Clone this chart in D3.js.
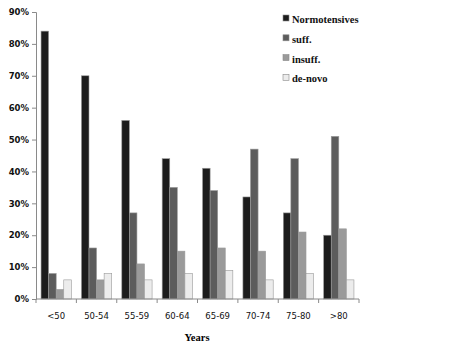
<!DOCTYPE html>
<html><head><meta charset="utf-8">
<script src="https://cdn.jsdelivr.net/npm/d3@7"></script>
<style>body{margin:0;background:#fff}</style>
</head><body>
<svg id="c" width="466" height="356"></svg>
<script>
const categories = ["<50","50-54","55-59","60-64","65-69","70-74","75-80",">80"];
const seriesNames = ["Normotensives","suff.","insuff.","de-novo"];
const normotensives = [84,70,56,44,41,32,27,20];
const suff = [8,16,27,35,34,47,44,51];
const insuff = [3,6,11,15,16,15,21,22];
const deNovo = [6,8,6,8,9,6,8,6];
const yTicks = [0,10,20,30,40,50,60,70,80,90];
const colors = ["#1c1c1c","#5c5c5c","#9a9a9a","#ececec"];
const seriesValues = [normotensives,suff,insuff,deNovo];

const svg = d3.select("#c");
const x0 = d3.scaleBand().domain(categories).range([36,359]).paddingInner(0.25).paddingOuter(0.125);
const x1 = d3.scaleBand().domain(seriesNames).range([0,x0.bandwidth()]);
const y = d3.scaleLinear().domain([0,90]).range([299,12]);

// y axis
const ya = svg.append("g").attr("transform","translate(36,0)")
  .call(d3.axisLeft(y).tickValues(yTicks).tickFormat(d=>d+"%").tickSizeOuter(0).tickSize(4).tickPadding(3));
ya.select(".domain").attr("stroke","#8a8a8a");
ya.selectAll(".tick line").attr("stroke","#8a8a8a");
ya.selectAll("text").attr("font-family","'DejaVu Sans', sans-serif").attr("font-weight","bold").attr("font-size","8.5px").attr("fill","#111");

// bars
categories.forEach((c,i)=>{
  seriesNames.forEach((s,j)=>{
    const v = seriesValues[j][i];
    svg.append("rect")
      .attr("x", x0(c)+x1(s)).attr("y", y(v))
      .attr("width", x1.bandwidth()).attr("height", y(0)-y(v))
      .attr("fill", colors[j]).attr("stroke","#9a9a9a").attr("stroke-width",0.6);
  });
});

// x axis
const xa = svg.append("g").attr("transform","translate(0,299)");
xa.append("line").attr("x1",36).attr("x2",359).attr("stroke","#8a8a8a");
const bounds = categories.map(c=>x0(c)-x0.step()*x0.paddingInner()/2).concat([359]);
xa.selectAll("line.t").data(bounds).enter().append("line").attr("class","t")
  .attr("x1",d=>d).attr("x2",d=>d).attr("y1",0).attr("y2",4).attr("stroke","#8a8a8a");
xa.selectAll("text").data(categories).enter().append("text")
  .attr("x",c=>x0(c)+x0.bandwidth()/2).attr("y",20)
  .attr("text-anchor","middle").attr("font-family","'DejaVu Sans', sans-serif")
  .attr("font-size","8.5px").attr("fill","#111").text(d=>d);

svg.append("text").attr("x",197).attr("y",341).attr("text-anchor","middle")
  .attr("font-family","'Liberation Serif', serif").attr("font-weight","bold").attr("font-size","10.5px").text("Years");

// legend
const lg = svg.append("g").attr("transform","translate(283,15)");
seriesNames.forEach((s,j)=>{
  const g = lg.append("g").attr("transform",`translate(0,${j*19.8})`);
  g.append("rect").attr("width",6).attr("height",6).attr("fill",colors[j]).attr("stroke","#8a8a8a").attr("stroke-width",0.6);
  g.append("text").attr("x",9).attr("y",8).attr("font-family","'Liberation Serif', serif")
    .attr("font-weight","bold").attr("font-size","10.5px").attr("fill","#111").text(s);
});
</script>
</body></html>
